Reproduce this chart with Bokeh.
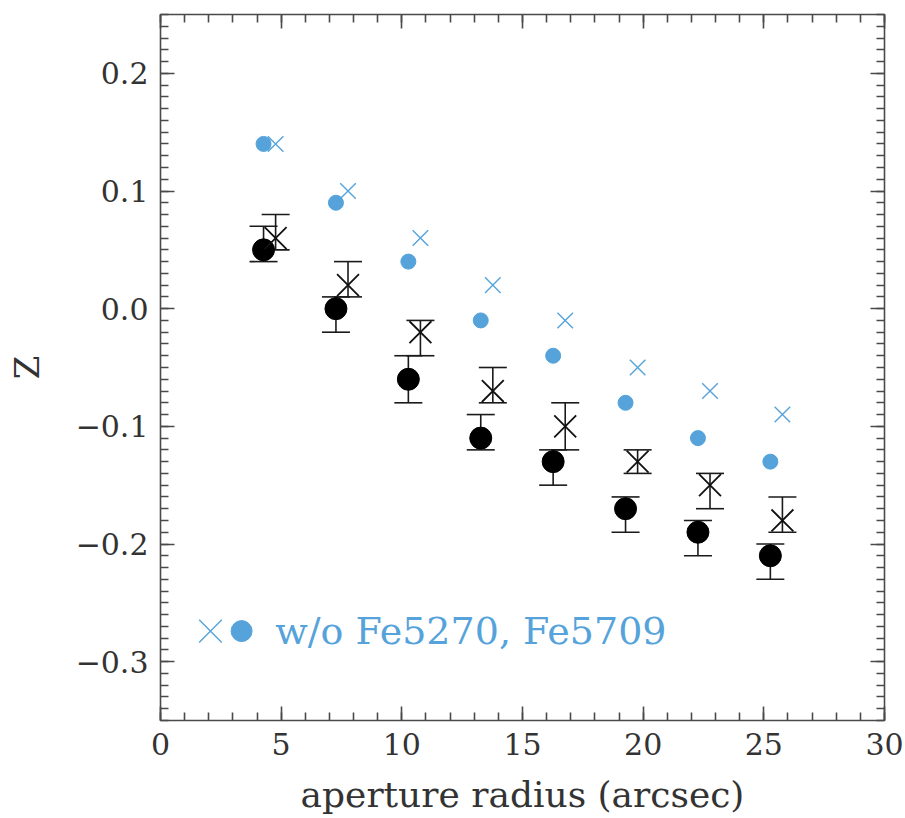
from bokeh.plotting import figure
from bokeh.models import (ColumnDataSource, Whisker, TeeHead, LinearAxis, FixedTicker,
                          CustomJSTickFormatter)
from bokeh.embed import file_html
from bokeh.resources import INLINE
from bokeh.core.properties import value

# aperture radius (arcsec); circles and crosses are drawn slightly apart
radius_circ = [4.27, 7.27, 10.27, 13.27, 16.27, 19.27, 22.27, 25.27]
radius_cross = [4.77, 7.77, 10.77, 13.77, 16.77, 19.77, 22.77, 25.77]

# Z from the full index set (filled circles) with error range
z_circ = [0.05, 0.0, -0.06, -0.11, -0.13, -0.17, -0.19, -0.21]
z_circ_lo = [0.04, -0.02, -0.08, -0.12, -0.15, -0.19, -0.21, -0.23]
z_circ_hi = [0.07, 0.01, -0.04, -0.09, -0.12, -0.16, -0.18, -0.20]

# Z from the second fit (crosses) with error range
z_cross = [0.06, 0.02, -0.02, -0.07, -0.10, -0.13, -0.15, -0.18]
z_cross_lo = [0.05, 0.01, -0.04, -0.08, -0.12, -0.14, -0.17, -0.19]
z_cross_hi = [0.08, 0.04, -0.01, -0.05, -0.08, -0.12, -0.14, -0.16]

# the same two fits without Fe5270 and Fe5709
z_circ_nofe = [0.14, 0.09, 0.04, -0.01, -0.04, -0.08, -0.11, -0.13]
z_cross_nofe = [0.14, 0.10, 0.06, 0.02, -0.01, -0.05, -0.07, -0.09]

x_ticks = [0, 5, 10, 15, 20, 25, 30]
x_tick_labels = ["0", "5", "10", "15", "20", "25", "30"]
y_ticks = [-0.3, -0.2, -0.1, 0.0, 0.1, 0.2]
y_tick_labels = ["\u22120.3", "\u22120.2", "\u22120.1", "0.0", "0.1", "0.2"]

legend_text = "w/o Fe5270, Fe5709"

FONT = "DejaVu Serif"
BLUE = "#55a3da"
AXIS = "#4a4a4a"
TEXT = "#333333"

p = figure(width=905, height=818, x_range=(0, 30), y_range=(-0.35, 0.25),
           output_backend="svg", toolbar_location=None,
           min_border_left=160, min_border_right=21,
           min_border_top=14, min_border_bottom=98)
p.grid.visible = False
p.outline_line_color = AXIS
p.outline_line_width = 1.6
p.background_fill_color = "white"
p.border_fill_color = "white"

x_minor = [float(i) for i in range(0, 31)]
y_minor = [round(-0.35 + 0.01 * i, 2) for i in range(61)]

# mirrored axes on top and right, ticks only
blank = CustomJSTickFormatter(code="return '';")
p.add_layout(LinearAxis(formatter=blank, major_label_standoff=0), "above")
p.add_layout(LinearAxis(formatter=blank, major_label_standoff=0), "right")

for ax in p.xaxis:
    ax.ticker = FixedTicker(ticks=x_ticks, minor_ticks=x_minor)
for ax in p.yaxis:
    ax.ticker = FixedTicker(ticks=y_ticks, minor_ticks=y_minor)

for ax in p.axis:
    ax.axis_line_color = None
    ax.major_tick_in = 14
    ax.major_tick_out = 0
    ax.minor_tick_in = 8
    ax.minor_tick_out = 0
    ax.major_tick_line_color = AXIS
    ax.minor_tick_line_color = AXIS
    ax.major_tick_line_width = 1.6
    ax.minor_tick_line_width = 1.6
    ax.major_label_text_font = FONT
    ax.major_label_text_font_size = "30px"
    ax.major_label_text_color = TEXT
    ax.axis_label_text_font = FONT
    ax.axis_label_text_font_style = "normal"
    ax.axis_label_text_color = TEXT

xb = p.below[0]
xb.major_label_overrides = dict(zip(x_ticks, x_tick_labels))
xb.major_label_standoff = 12
xb.axis_label = "aperture radius (arcsec)"
xb.axis_label_text_font_size = "36px"
xb.axis_label_standoff = 16

yl = p.left[0]
yl.major_label_overrides = dict(zip(y_ticks, y_tick_labels))
yl.major_label_standoff = 12
yl.axis_label = "Z"
yl.axis_label_text_font_size = "34px"
yl.axis_label_standoff = 26

circ = ColumnDataSource(dict(x=radius_circ, y=z_circ, lo=z_circ_lo, hi=z_circ_hi,
                             nofe=z_circ_nofe))
cross = ColumnDataSource(dict(x=radius_cross, y=z_cross, lo=z_cross_lo, hi=z_cross_hi,
                              nofe=z_cross_nofe))

# fits without the Fe indices
p.scatter("x", "nofe", source=circ, marker="circle", size=15,
          fill_color=BLUE, line_color=BLUE)
p.scatter("x", "nofe", source=cross, marker="x", size=22,
          line_color=BLUE, line_width=1.4)

# error bars
for src in (circ, cross):
    w = Whisker(base="x", lower="lo", upper="hi", source=src,
                line_color="#1a1a1a", line_width=1.6,
                upper_head=TeeHead(size=28, line_color="#1a1a1a", line_width=1.6),
                lower_head=TeeHead(size=28, line_color="#1a1a1a", line_width=1.6))
    p.add_layout(w)

p.scatter("x", "y", source=circ, marker="circle", size=22,
          fill_color="black", line_color="black")
p.scatter("x", "y", source=cross, marker="x", size=31,
          line_color="#111111", line_width=1.8)

# in-plot key for the blue points
p.scatter([2.07], [-0.274], marker="x", size=32, line_color=BLUE, line_width=1.4)
p.scatter([3.36], [-0.274], marker="circle", size=21, fill_color=BLUE, line_color=BLUE)
p.text([4.75], [-0.274], text=[legend_text], text_font=value(FONT),
       text_font_size="38px", text_color=BLUE, text_baseline="middle",
       text_align="left")

open("out.html", "w").write(file_html(p, INLINE))
